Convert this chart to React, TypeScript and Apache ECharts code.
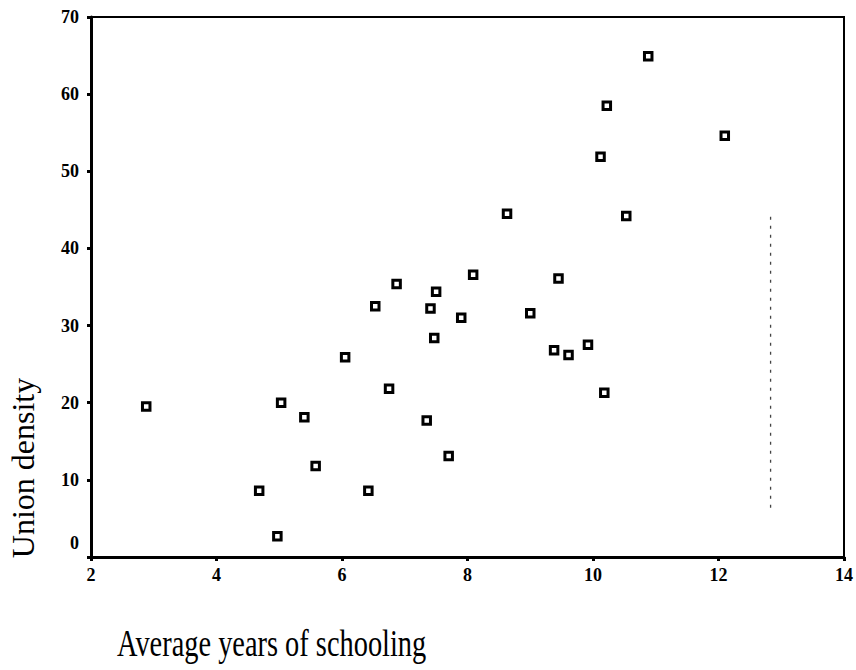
import { useEffect, useRef } from "react";
import * as echarts from "echarts";

// Average years of schooling (x) and union density (y), one entry per country
const schooling = [
  2.88, 4.68, 4.97, 5.03, 5.4, 5.58, 6.05, 6.42, 6.53, 6.75, 6.87, 7.35, 7.41, 7.47, 7.5,
  7.7, 7.9, 8.09, 8.63, 9.0, 9.38, 9.45, 9.61, 9.92, 10.12, 10.18, 10.22, 10.53, 10.88, 12.1,
];
const unionDensity = [
  19.5, 8.6, 2.7, 20.0, 18.1, 11.8, 25.9, 8.6, 32.5, 21.8, 35.4, 17.7, 32.2, 28.4, 34.4,
  13.1, 31.0, 36.6, 44.5, 31.6, 26.8, 36.1, 26.2, 27.5, 51.9, 21.3, 58.5, 44.2, 64.9, 54.6,
];

// Faint broken vertical rule near the right edge of the plot
const ruleX = [12.83, 12.83];
const ruleY = [6.4, 44.6];

const X_MIN = 2;
const X_MAX = 14;
const X_STEP = 2;
const Y_MIN = 0;
const Y_MAX = 70;
const Y_STEP = 10;

const xTitle = "Average years of schooling";
const yTitle = "Union density";

const serif = "'Liberation Serif', 'Times New Roman', serif";

export default function App() {
  const ref = useRef<HTMLDivElement>(null);

  useEffect(() => {
    document.body.style.margin = "0";
    if (!ref.current) return;
    const chart = echarts.init(ref.current, undefined, { renderer: "svg" });

    const tickLabel = {
      color: "#000",
      fontFamily: serif,
      fontWeight: "bold" as const,
      fontSize: 18,
    };

    chart.setOption({
      animation: false,
      backgroundColor: "#fff",
      grid: {
        left: 91,
        right: 10,
        top: 17,
        bottom: 113,
        show: true,
        borderColor: "#000",
        borderWidth: 2,
        backgroundColor: "transparent",
      },
      xAxis: {
        type: "value",
        min: X_MIN,
        max: X_MAX,
        interval: X_STEP,
        axisLine: { show: true, lineStyle: { color: "#000", width: 3 } },
        axisTick: { show: true, length: 4, lineStyle: { color: "#000", width: 3 } },
        splitLine: { show: false },
        axisLabel: { ...tickLabel, margin: 9 },
      },
      yAxis: {
        type: "value",
        min: Y_MIN,
        max: Y_MAX,
        interval: Y_STEP,
        axisLine: { show: true, lineStyle: { color: "#000", width: 3 } },
        axisTick: { show: true, length: 4, lineStyle: { color: "#000", width: 3 } },
        splitLine: { show: false },
        axisLabel: {
          ...tickLabel,
          margin: 12,
          formatter: (v: number) => (v === 0 ? "{z|0}" : String(v)),
          rich: {
            z: { ...tickLabel, padding: [0, 0, 28, 0] },
          },
        },
      },
      graphic: [
        {
          type: "text",
          x: 117,
          y: 644,
          scaleY: 1.3,
          style: {
            text: xTitle,
            fontFamily: serif,
            fontSize: 28.4,
            fill: "#000",
            align: "left",
            verticalAlign: "middle",
          },
        },
        {
          type: "text",
          x: 23,
          y: 468,
          rotation: Math.PI / 2,
          style: {
            text: yTitle,
            fontFamily: serif,
            fontSize: 32,
            fill: "#000",
            align: "center",
            verticalAlign: "middle",
          },
        },
      ],
      series: [
        {
          type: "line",
          data: ruleX.map((x, i) => [x, ruleY[i]]),
          symbol: "none",
          silent: true,
          lineStyle: { color: "#444", width: 1.3, type: [3, 6] },
        },
        {
          type: "scatter",
          data: schooling.map((x, i) => [x, unionDensity[i]]),
          symbol: "rect",
          symbolSize: 7.5,
          itemStyle: { color: "#fff", borderColor: "#000", borderWidth: 3, opacity: 1 },
        },
      ],
    });

    return () => chart.dispose();
  }, []);

  return <div ref={ref} style={{ width: 856, height: 670 }} />;
}
